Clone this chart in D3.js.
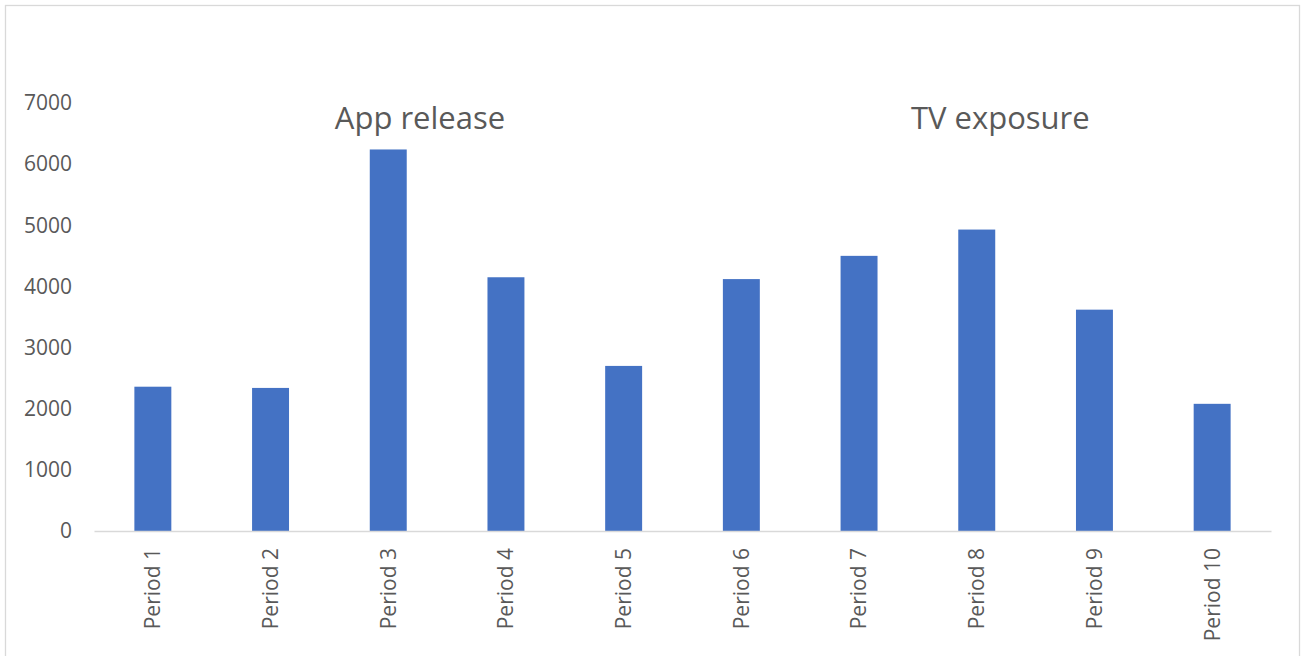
<!DOCTYPE html>
<html>
<head>
<meta charset="utf-8">
<script src="https://cdn.jsdelivr.net/npm/d3@7"></script>
<style>
  html, body { margin: 0; padding: 0; background: #fff; }
  svg { display: block; }
  text { font-family: "Open Sans", "Segoe UI", sans-serif; fill: #595959; }
</style>
</head>
<body>
<svg id="chart" width="1303" height="656"></svg>
<script>
// Visitors per period
const categories = ["Period 1", "Period 2", "Period 3", "Period 4", "Period 5",
                    "Period 6", "Period 7", "Period 8", "Period 9", "Period 10"];
const values = [2360, 2340, 6240, 4150, 2700, 4120, 4500, 4930, 3620, 2080];
const yTicks = [0, 1000, 2000, 3000, 4000, 5000, 6000, 7000];

// Event annotations: position along the category axis (band units) and height in value units
const noteTexts = ["App release", "TV exposure"];
const notePositions = [2.77, 7.70];
const noteLevels = [6570, 6570];

const svg = d3.select("#chart");
const W = 1303, H = 656;
const margin = { left: 94, right: 32, top: 103, bottom: 125 };

// Chart frame
svg.append("rect")
  .attr("x", 5.5).attr("y", 5.5)
  .attr("width", 1294).attr("height", 660)
  .attr("fill", "#fff")
  .attr("stroke", "#d9d9d9")
  .attr("stroke-width", 1.3);

const x = d3.scaleBand()
  .domain(categories)
  .range([margin.left, W - margin.right])
  .paddingInner(0.686)
  .paddingOuter(0.343);

const y = d3.scaleLinear()
  .domain([0, 7000])
  .range([H - margin.bottom, margin.top]);

// Bars
svg.append("g")
  .selectAll("rect")
  .data(values)
  .join("rect")
  .attr("x", (d, i) => x(categories[i]))
  .attr("y", d => y(d))
  .attr("width", x.bandwidth())
  .attr("height", d => y(0) - y(d))
  .attr("fill", "#4472C4");

// Value axis (labels only)
const yAxis = svg.append("g")
  .attr("transform", `translate(${margin.left - 22},0)`)
  .call(d3.axisLeft(y).tickValues(yTicks).tickSize(0).tickPadding(0).tickFormat(d3.format("d")));
yAxis.select(".domain").remove();
yAxis.selectAll("text")
  .attr("font-size", 21)
  .attr("fill", "#595959")
  .style("font-family", "'Open Sans', 'Segoe UI', sans-serif");

// Category axis
const xAxis = svg.append("g")
  .attr("transform", `translate(0,${y(0)})`)
  .call(d3.axisBottom(x).tickSize(0).tickPadding(0));
xAxis.select(".domain")
  .attr("stroke", "#d9d9d9")
  .attr("stroke-width", 1.5);
xAxis.selectAll("text")
  .attr("font-size", 21)
  .attr("fill", "#595959")
  .style("font-family", "'Open Sans', 'Segoe UI', sans-serif")
  .attr("text-anchor", "end")
  .attr("dy", "0.35em")
  .attr("transform", "translate(0,17) rotate(-90)")
  .attr("x", 0)
  .attr("y", 0);

// Event annotations
const step = x.step();
const x0 = x.range()[0];
svg.append("g")
  .selectAll("text")
  .data(noteTexts)
  .join("text")
  .attr("x", (d, i) => x0 + step * notePositions[i])
  .attr("y", (d, i) => y(noteLevels[i]))
  .attr("text-anchor", "middle")
  .attr("font-size", 31)
  .text(d => d);
</script>
</body>
</html>
